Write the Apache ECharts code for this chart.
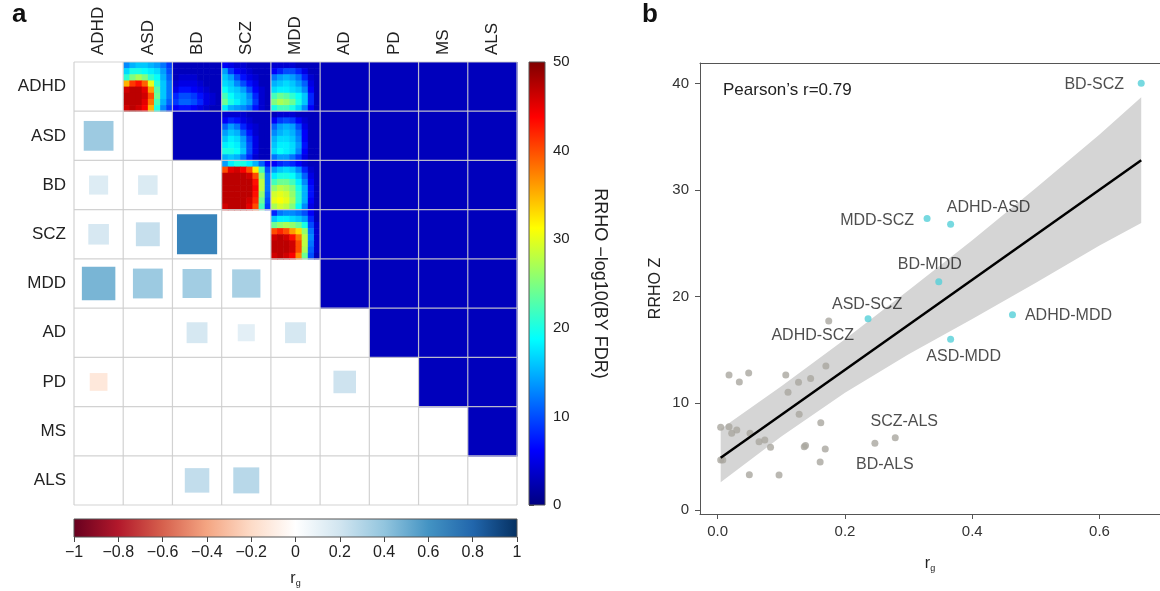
<!DOCTYPE html>
<html>
<head>
<meta charset="utf-8">
<script src="https://cdn.jsdelivr.net/npm/echarts@6/dist/echarts.min.js"></script>
<style>html,body{margin:0;padding:0;background:#fff}#main{width:1160px;height:591px}</style>
</head>
<body>
<div id="main"></div>
<script>
var traits = ['ADHD', 'ASD', 'BD', 'SCZ', 'MDD', 'AD', 'PD', 'MS', 'ALS'];

// lower triangle: genetic correlation (row trait, column trait, rg)
var rgPairs = [
  ['ASD', 'ADHD', 0.366],
  ['BD', 'ADHD', 0.15], ['BD', 'ASD', 0.157],
  ['SCZ', 'ADHD', 0.175], ['SCZ', 'ASD', 0.236], ['SCZ', 'BD', 0.666],
  ['MDD', 'ADHD', 0.463], ['MDD', 'ASD', 0.367], ['MDD', 'BD', 0.348], ['MDD', 'SCZ', 0.33],
  ['AD', 'BD', 0.18], ['AD', 'SCZ', 0.12], ['AD', 'MDD', 0.18],
  ['PD', 'ADHD', -0.13], ['PD', 'AD', 0.21],
  ['ALS', 'BD', 0.248], ['ALS', 'SCZ', 0.279]
];

// upper triangle: flat RRHO cells (-log10 BY FDR), null = not flat
var rrhoFlat = [
  [null, null, null, null, null, 3, 3, 3, 3],
  [null, null, 3, null, null, 3, 3, 3, 3],
  [null, null, null, null, null, 3, 3, 3, 3],
  [null, null, null, null, null, 3.5, 3, 3, 3],
  [null, null, null, null, null, 3, 3, 3, 3],
  [null, null, null, null, null, null, 3, 3, 3],
  [null, null, null, null, null, null, null, 3, 3],
  [null, null, null, null, null, null, null, null, 3],
  [null, null, null, null, null, null, null, null, null]
];

// RRHO maps, 8x8, rows top to bottom
var rrho_ADHD_ASD = [
  [13, 15, 16, 16, 15, 14, 12, 9],
  [17, 20, 20, 19, 18, 17, 14, 10],
  [21, 25, 27, 25, 21, 19, 15, 11],
  [35, 41, 43, 39, 30, 21, 16, 12],
  [46, 47, 47, 45, 36, 23, 16, 12],
  [47, 47, 47, 46, 40, 24, 16, 12],
  [47, 47, 47, 45, 38, 22, 15, 11],
  [46, 47, 46, 44, 35, 20, 13, 9]
];
var rrho_ADHD_BD = [
  [3, 3, 3, 3, 3, 3, 3, 3],
  [3, 3, 3, 3, 3, 3, 3, 3],
  [3, 4, 4, 4, 3, 3, 3, 3],
  [4, 5, 5, 5, 4, 3, 3, 3],
  [5, 7, 7, 6, 5, 4, 3, 3],
  [8, 10, 10, 9, 7, 5, 4, 3],
  [9, 11, 11, 10, 8, 5, 4, 3],
  [6, 7, 7, 6, 5, 4, 3, 3]
];
var rrho_ADHD_SCZ = [
  [6, 5, 4, 4, 3, 3, 3, 3],
  [14, 9, 6, 5, 4, 3, 3, 3],
  [16, 14, 10, 7, 5, 4, 3, 3],
  [17, 16, 13, 10, 7, 5, 3, 3],
  [19, 17, 16, 14, 10, 6, 4, 3],
  [22, 19, 17, 16, 13, 8, 4, 3],
  [24, 20, 18, 16, 14, 9, 4, 3],
  [18, 15, 14, 13, 11, 7, 4, 3]
];
var rrho_ADHD_MDD = [
  [4, 4, 4, 4, 3, 3, 3, 3],
  [6, 8, 10, 10, 8, 5, 3, 3],
  [12, 14, 15, 14, 12, 8, 4, 3],
  [15, 16, 17, 16, 14, 11, 5, 3],
  [17, 18, 18, 17, 16, 13, 6, 3],
  [22, 24, 23, 21, 19, 16, 8, 3],
  [25, 27, 26, 24, 20, 16, 8, 3],
  [20, 22, 22, 20, 17, 13, 6, 3]
];
var rrho_ASD_SCZ = [
  [4, 4, 4, 4, 3, 3, 3, 3],
  [6, 8, 7, 5, 4, 3, 3, 3],
  [11, 14, 12, 8, 5, 4, 3, 3],
  [14, 16, 15, 11, 7, 4, 3, 3],
  [16, 18, 17, 14, 9, 5, 3, 3],
  [18, 19, 18, 15, 10, 5, 3, 3],
  [20, 20, 19, 16, 10, 5, 3, 3],
  [15, 16, 15, 12, 8, 4, 3, 3]
];
var rrho_ASD_MDD = [
  [3, 4, 4, 4, 3, 3, 3, 3],
  [6, 9, 10, 9, 6, 4, 3, 3],
  [11, 14, 15, 14, 10, 5, 3, 3],
  [13, 15, 16, 15, 12, 6, 3, 3],
  [15, 17, 17, 16, 13, 6, 3, 3],
  [16, 18, 18, 17, 14, 7, 3, 3],
  [17, 19, 18, 17, 13, 6, 3, 3],
  [12, 14, 14, 12, 9, 5, 3, 3]
];
var rrho_BD_SCZ = [
  [14, 18, 20, 20, 18, 15, 11, 6],
  [40, 45, 46, 44, 40, 32, 22, 10],
  [47, 47, 47, 47, 46, 40, 26, 12],
  [47, 47, 47, 47, 47, 43, 28, 12],
  [47, 47, 47, 47, 47, 44, 28, 12],
  [47, 47, 47, 47, 47, 43, 26, 11],
  [47, 47, 47, 47, 46, 42, 24, 10],
  [46, 47, 47, 47, 45, 40, 22, 9]
];
var rrho_BD_MDD = [
  [6, 8, 9, 8, 6, 4, 3, 3],
  [14, 16, 17, 16, 13, 8, 4, 3],
  [18, 20, 20, 19, 16, 11, 5, 3],
  [22, 24, 24, 22, 18, 13, 6, 3],
  [26, 28, 27, 25, 20, 15, 7, 3],
  [29, 30, 29, 26, 21, 15, 7, 3],
  [30, 31, 30, 27, 21, 15, 6, 3],
  [27, 29, 28, 25, 19, 13, 5, 3]
];
var rrho_SCZ_MDD = [
  [8, 12, 13, 13, 12, 10, 6, 3],
  [16, 18, 18, 17, 16, 14, 8, 3],
  [24, 26, 27, 26, 24, 20, 10, 4],
  [40, 42, 40, 36, 33, 26, 12, 4],
  [46, 47, 46, 43, 38, 28, 13, 4],
  [47, 47, 47, 46, 40, 28, 12, 4],
  [47, 47, 47, 46, 40, 27, 11, 4],
  [46, 47, 46, 44, 37, 24, 10, 3]
];
var rrhoMapped = [
  ['ADHD', 'ASD', rrho_ADHD_ASD], ['ADHD', 'BD', rrho_ADHD_BD],
  ['ADHD', 'SCZ', rrho_ADHD_SCZ], ['ADHD', 'MDD', rrho_ADHD_MDD],
  ['ASD', 'SCZ', rrho_ASD_SCZ], ['ASD', 'MDD', rrho_ASD_MDD],
  ['BD', 'SCZ', rrho_BD_SCZ], ['BD', 'MDD', rrho_BD_MDD],
  ['SCZ', 'MDD', rrho_SCZ_MDD]
];

var rrhoTicks = [0, 10, 20, 30, 40, 50];
var rgTicks = [-1, -0.8, -0.6, -0.4, -0.2, 0, 0.2, 0.4, 0.6, 0.8, 1];

// panel b: rg vs RRHO Z
var grayPoints = [
  [0.0047, 7.75], [0.0178, 7.81], [0.022, 7.19], [0.030, 7.5],
  [0.0178, 12.65], [0.034, 12.0], [0.0487, 12.84],
  [0.0047, 4.69], [0.008, 4.69], [0.0497, 3.31], [0.0964, 3.28],
  [0.0508, 7.19], [0.065, 6.4], [0.074, 6.56], [0.083, 5.88],
  [0.107, 12.65], [0.1105, 11.03], [0.127, 11.97], [0.128, 8.97],
  [0.146, 12.34], [0.170, 13.5], [0.162, 8.18],
  [0.136, 5.93], [0.138, 6.05], [0.169, 5.72], [0.161, 4.5]
];
var grayNamed = [
  ['ADHD-SCZ', 0.1745, 17.71], ['SCZ-ALS', 0.279, 6.78], ['BD-ALS', 0.247, 6.25]
];
var tealNamed = [
  ['BD-SCZ', 0.6655, 40.0], ['MDD-SCZ', 0.329, 27.34], ['ADHD-ASD', 0.366, 26.78],
  ['BD-MDD', 0.3474, 21.4], ['ASD-SCZ', 0.2363, 17.93], ['ADHD-MDD', 0.4632, 18.3],
  ['ASD-MDD', 0.366, 16.0]
];
var fitX = [0.0047, 0.6655];
var fitY = [4.9, 32.8];
var bandX = [0.0047, 0.1, 0.2, 0.3, 0.4, 0.5, 0.6, 0.6655];
var bandLo = [2.6, 6.9, 11.0, 14.6, 17.9, 21.3, 24.8, 26.9];
var bandHi = [7.6, 11.6, 16.0, 20.6, 25.3, 30.2, 35.2, 38.7];
var bTicksX = [0, 0.2, 0.4, 0.6];
var bTicksY = [0, 10, 20, 30, 40];

var jetColors = ['#00007F', '#0000FF', '#007FFF', '#00FFFF', '#7FFF7F', '#FFFF00', '#FF7F00', '#FF0000', '#7F0000'];
var rdbuColors = ['#67001F', '#B2182B', '#D6604D', '#F4A582', '#FDDBC7', '#FFFFFF', '#D1E5F0', '#92C5DE', '#4393C3', '#2166AC', '#053061'];

// label offsets (px from point centre)
var labelOffset = {
  'BD-SCZ': [-47, 1], 'MDD-SCZ': [-50, 2], 'ADHD-ASD': [38, -17], 'BD-MDD': [-9, -17],
  'ASD-SCZ': [-1, -14], 'ADHD-SCZ': [-16, 14], 'ADHD-MDD': [56, 1], 'ASD-MDD': [13, 17],
  'SCZ-ALS': [9, -16], 'BD-ALS': [10, 21]
};

var font = 'Liberation Sans, Arial, Helvetica, sans-serif';
var chart = echarts.init(document.getElementById('main'));

var rrhoData = [];
rrhoFlat.forEach(function (row, i) {
  row.forEach(function (v, j) {
    if (v != null) rrhoData.push([j, i, 1, v]);
  });
});
rrhoMapped.forEach(function (m) {
  var i = traits.indexOf(m[0]), j = traits.indexOf(m[1]), grid = m[2], n = grid.length;
  grid.forEach(function (r, ri) {
    r.forEach(function (v, ci) {
      rrhoData.push([j + ci / n, i + ri / n, 1 / n, v]);
    });
  });
});
var rgData = rgPairs.map(function (p) {
  return [traits.indexOf(p[1]), traits.indexOf(p[0]), p[2]];
});
var lineIdx = [];
for (var k = 0; k <= traits.length; k++) lineIdx.push(k);

function stops(cols) {
  return cols.map(function (c, k) { return { offset: k / (cols.length - 1), color: c }; });
}
function labelled(list) {
  return list.map(function (p) {
    var o = labelOffset[p[0]];
    return {
      name: p[0], value: [p[1], p[2]],
      label: { show: true, formatter: '{b}', position: [3.5 + o[0], 3.5 + o[1]], align: 'center', verticalAlign: 'middle', fontSize: 16, color: '#222', fontFamily: font }
    };
  });
}
function minus(v) {
  return v === 0 ? '0' : (v < 0 ? '\u2212' : '') + String(Math.abs(v));
}
var rgName = { rich: { r: { fontSize: 16, color: '#222' }, g: { fontSize: 9, color: '#222', padding: [10, 0, 0, 0] } } };

var option = {
  animation: false,
  textStyle: { fontFamily: font },
  title: [
    { text: 'a', left: 12, top: 2, padding: 0, textStyle: { fontSize: 26, fontWeight: 'bold', color: '#111', fontFamily: font } },
    { text: 'b', left: 642, top: 2, padding: 0, textStyle: { fontSize: 26, fontWeight: 'bold', color: '#111', fontFamily: font } },
    { text: "Pearson\u2019s r=0.79", left: 723, top: 82, padding: 0, textStyle: { fontSize: 17, fontWeight: 'normal', color: '#222', fontFamily: font } }
  ],
  grid: [
    { left: 74, top: 62, width: 443, height: 443 },
    { left: 529, top: 62, width: 16, height: 443 },
    { left: 74, top: 519, width: 443, height: 18 },
    { left: 700, top: 63, width: 460, height: 451 }
  ],
  xAxis: [
    { gridIndex: 0, type: 'category', data: traits, position: 'top', axisLine: { show: false }, axisTick: { show: false },
      axisLabel: { rotate: 90, margin: 7, fontSize: 17, color: '#222' } },
    { gridIndex: 0, type: 'value', min: 0, max: 9, show: false },
    { gridIndex: 1, type: 'value', min: 0, max: 1, show: false },
    { gridIndex: 2, type: 'value', min: -1, max: 1, position: 'bottom', axisLine: { show: false }, splitLine: { show: false },
      axisTick: { show: true, length: 5, lineStyle: { color: '#444' }, customValues: rgTicks },
      axisLabel: { fontSize: 16, color: '#222', margin: 8, customValues: rgTicks, formatter: minus },
      name: '{r|r}{g|g}', nameLocation: 'middle', nameGap: 32, nameTextStyle: rgName },
    { gridIndex: 3, type: 'value', min: -0.0278, max: 0.695, position: 'bottom', splitLine: { show: false },
      axisLine: { show: true, onZero: false, lineStyle: { color: '#555' } },
      axisTick: { show: true, length: 5, lineStyle: { color: '#555' }, customValues: bTicksX },
      axisLabel: { fontSize: 15, color: '#333', margin: 10, customValues: bTicksX, formatter: function (v) { return v.toFixed(1); } },
      name: '{r|r}{g|g}', nameLocation: 'middle', nameGap: 40, nameTextStyle: rgName },
    { gridIndex: 3, type: 'value', min: -0.0278, max: 0.695, position: 'top', splitLine: { show: false },
      axisLine: { show: true, onZero: false, lineStyle: { color: '#555' } }, axisTick: { show: false }, axisLabel: { show: false } }
  ],
  yAxis: [
    { gridIndex: 0, type: 'category', data: traits, inverse: true, axisLine: { show: false }, axisTick: { show: false },
      axisLabel: { margin: 8, fontSize: 17, color: '#222' } },
    { gridIndex: 0, type: 'value', min: 0, max: 9, inverse: true, show: false },
    { gridIndex: 1, type: 'value', min: 0, max: 50, position: 'right', axisLine: { show: false }, splitLine: { show: false },
      axisTick: { show: true, length: 5, lineStyle: { color: '#444' }, customValues: rrhoTicks },
      axisLabel: { fontSize: 15, color: '#222', margin: 8, customValues: rrhoTicks },
      name: 'RRHO \u2212log10(BY FDR)', nameLocation: 'middle', nameRotate: -90, nameGap: 46,
      nameTextStyle: { fontSize: 18, color: '#222' } },
    { gridIndex: 2, type: 'value', min: 0, max: 1, show: false },
    { gridIndex: 3, type: 'value', min: -0.375, max: 41.91, splitLine: { show: false },
      axisLine: { show: true, onZero: false, lineStyle: { color: '#555' } },
      axisTick: { show: true, length: 5, lineStyle: { color: '#555' }, customValues: bTicksY },
      axisLabel: { fontSize: 15, color: '#333', margin: 11, customValues: bTicksY },
      name: 'RRHO Z', nameLocation: 'middle', nameGap: 36, nameTextStyle: { fontSize: 16, color: '#222' } }
  ],
  visualMap: [
    { type: 'continuous', show: false, min: 0, max: 50, dimension: 3, seriesIndex: 0, inRange: { color: jetColors } },
    { type: 'continuous', show: false, min: -1, max: 1, dimension: 2, seriesIndex: 1, inRange: { color: rdbuColors } }
  ],
  series: [
    { type: 'custom', xAxisIndex: 1, yAxisIndex: 1, data: rrhoData,
      renderItem: function (params, api) {
        var x = api.value(0), y = api.value(1), s = api.value(2);
        var p0 = api.coord([x, y]), p1 = api.coord([x + s, y + s]);
        return { type: 'rect', shape: { x: p0[0], y: p0[1], width: p1[0] - p0[0] + 0.6, height: p1[1] - p0[1] + 0.6 },
          style: { fill: api.visual('color') } };
      } },
    { type: 'custom', xAxisIndex: 1, yAxisIndex: 1, data: rgData,
      renderItem: function (params, api) {
        var c = api.coord([api.value(0) + 0.5, api.value(1) + 0.5]);
        var side = api.size([1, 1])[0] * Math.sqrt(Math.abs(api.value(2)));
        return { type: 'rect', shape: { x: c[0] - side / 2, y: c[1] - side / 2, width: side, height: side },
          style: { fill: api.visual('color') } };
      } },
    { type: 'custom', xAxisIndex: 1, yAxisIndex: 1, data: lineIdx, z: 5,
      renderItem: function (params, api) {
        var k = api.value(0), n = traits.length;
        var a = api.coord([k, 0]), b = api.coord([k, n]), c = api.coord([0, k]), d = api.coord([n, k]);
        var st = { stroke: 'rgba(205,205,205,0.9)', lineWidth: 1.2 };
        return { type: 'group', children: [
          { type: 'line', shape: { x1: a[0], y1: a[1], x2: b[0], y2: b[1] }, style: st },
          { type: 'line', shape: { x1: c[0], y1: c[1], x2: d[0], y2: d[1] }, style: st }
        ] };
      } },
    { type: 'custom', xAxisIndex: 2, yAxisIndex: 2, data: [[0]],
      renderItem: function (params) {
        var g = params.coordSys;
        return { type: 'rect', shape: { x: g.x, y: g.y, width: g.width, height: g.height },
          style: { fill: new echarts.graphic.LinearGradient(0, 1, 0, 0, stops(jetColors)), stroke: '#555', lineWidth: 1 } };
      } },
    { type: 'custom', xAxisIndex: 3, yAxisIndex: 3, data: [[0]],
      renderItem: function (params) {
        var g = params.coordSys;
        return { type: 'rect', shape: { x: g.x, y: g.y, width: g.width, height: g.height },
          style: { fill: new echarts.graphic.LinearGradient(0, 0, 1, 0, stops(rdbuColors)), stroke: '#555', lineWidth: 1 } };
      } },
    { type: 'custom', xAxisIndex: 4, yAxisIndex: 4, data: [[0]],
      renderItem: function (params, api) {
        var pts = bandX.map(function (x, k) { return api.coord([x, bandHi[k]]); });
        for (var k = bandX.length - 1; k >= 0; k--) pts.push(api.coord([bandX[k], bandLo[k]]));
        return { type: 'polygon', shape: { points: pts }, style: { fill: '#d5d5d5' } };
      } },
    { type: 'scatter', xAxisIndex: 4, yAxisIndex: 4, symbolSize: 7, itemStyle: { color: '#a9a69f' },
      data: grayPoints.concat(labelled(grayNamed)) },
    { type: 'scatter', xAxisIndex: 4, yAxisIndex: 4, symbolSize: 7, itemStyle: { color: '#55d0d8' },
      data: labelled(tealNamed) },
    { type: 'line', xAxisIndex: 4, yAxisIndex: 4, symbol: 'none', lineStyle: { color: '#000', width: 2.5 },
      data: fitX.map(function (x, k) { return [x, fitY[k]]; }) }
  ]
};
chart.setOption(option);
</script>
</body>
</html>
